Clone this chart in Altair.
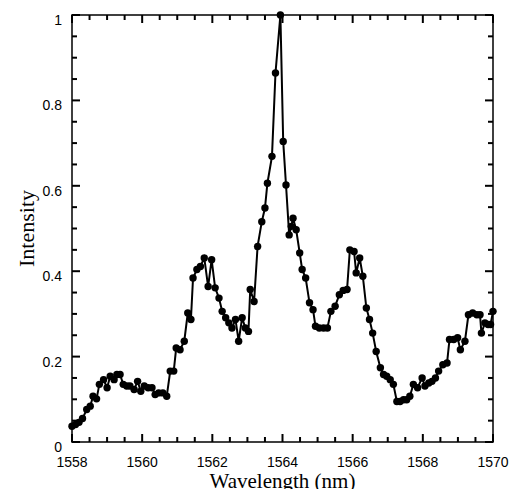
import altair as alt
import pandas as pd

wavelength = [
    1558.00, 1558.10, 1558.20, 1558.30, 1558.42, 1558.52, 1558.60, 1558.70, 1558.78, 1558.90,
    1559.00, 1559.09, 1559.20, 1559.28, 1559.37, 1559.46, 1559.56, 1559.65, 1559.77, 1559.87,
    1559.96, 1560.06, 1560.17, 1560.28, 1560.37, 1560.47, 1560.59, 1560.70, 1560.80, 1560.90,
    1560.97, 1561.08, 1561.20, 1561.30, 1561.39, 1561.45, 1561.56, 1561.66, 1561.77, 1561.88,
    1561.98, 1562.08, 1562.19, 1562.28, 1562.38, 1562.47, 1562.56, 1562.66, 1562.75, 1562.85,
    1562.94, 1563.03, 1563.08, 1563.19, 1563.29, 1563.41, 1563.50, 1563.57, 1563.70, 1563.80,
    1563.94, 1564.02, 1564.10, 1564.19, 1564.25, 1564.30, 1564.39, 1564.49, 1564.56, 1564.66,
    1564.77, 1564.87, 1564.94, 1565.05, 1565.17, 1565.28, 1565.38, 1565.50, 1565.62, 1565.73,
    1565.84, 1565.92, 1566.04, 1566.10, 1566.20, 1566.29, 1566.39, 1566.48, 1566.57, 1566.67,
    1566.79, 1566.88, 1566.97, 1567.07, 1567.16, 1567.26, 1567.35, 1567.45, 1567.54, 1567.63,
    1567.73, 1567.85, 1567.98, 1568.06, 1568.17, 1568.26, 1568.36, 1568.45, 1568.57, 1568.69,
    1568.76, 1568.88, 1568.99, 1569.07, 1569.20, 1569.30, 1569.42, 1569.54, 1569.63, 1569.67,
    1569.77, 1569.86, 1569.93, 1570.00,
]
intensity = [
    0.037, 0.041, 0.046, 0.055, 0.076, 0.084, 0.107, 0.101, 0.135, 0.146,
    0.127, 0.154, 0.146, 0.158, 0.158, 0.135, 0.131, 0.131, 0.123, 0.142,
    0.119, 0.131, 0.127, 0.127, 0.111, 0.115, 0.115, 0.107, 0.166, 0.166,
    0.220, 0.216, 0.236, 0.302, 0.287, 0.384, 0.404, 0.411, 0.431, 0.364,
    0.427, 0.361, 0.337, 0.306, 0.291, 0.279, 0.267, 0.287, 0.236, 0.291,
    0.267, 0.259, 0.357, 0.329, 0.458, 0.516, 0.548, 0.606, 0.669, 0.864,
    1.000, 0.704, 0.602, 0.485, 0.505, 0.524, 0.497, 0.443, 0.404, 0.384,
    0.326, 0.310, 0.271, 0.267, 0.267, 0.267, 0.306, 0.318, 0.345, 0.355,
    0.357, 0.450, 0.446, 0.396, 0.431, 0.388, 0.314, 0.287, 0.255, 0.212,
    0.174, 0.158, 0.154, 0.146, 0.135, 0.095, 0.095, 0.099, 0.099, 0.107,
    0.135, 0.127, 0.150, 0.131, 0.138, 0.142, 0.150, 0.166, 0.181, 0.185,
    0.240, 0.240, 0.244, 0.216, 0.236, 0.298, 0.302, 0.298, 0.298, 0.255,
    0.279, 0.275, 0.275, 0.306,
]

x_major = [1558, 1560, 1562, 1564, 1566, 1568, 1570]
x_labels = ["1558", "1560", "1562", "1564", "1566", "1568", "1570"]
x_minor = [1558.5, 1559, 1559.5, 1560.5, 1561, 1561.5, 1562.5,
           1563, 1563.5, 1564.5, 1565, 1565.5, 1566.5, 1567, 1567.5,
           1568.5, 1569, 1569.5]
y_major = [0, 0.2, 0.4, 0.6, 0.8, 1]
y_labels = ["0", "0.2", "0.4", "0.6", "0.8", "1"]
y_minor = [0.05, 0.1, 0.15, 0.25, 0.3, 0.35, 0.45, 0.5,
           0.55, 0.65, 0.7, 0.75, 0.85, 0.9, 0.95]
x_title = "Wavelength (nm)"
y_title = "Intensity"

df = pd.DataFrame({"wl": wavelength, "I": intensity})
df_xmaj = pd.DataFrame({"t": x_major, "lab": x_labels})
df_xmin = pd.DataFrame({"t": x_minor})
df_ymaj = pd.DataFrame({"t": y_major, "lab": y_labels})
df_ymin = pd.DataFrame({"t": y_minor})

W, H = 421, 427
MAJ, MIN = 8, 5
xs = alt.Scale(domain=[1558, 1570], nice=False, zero=False)
ys = alt.Scale(domain=[0, 1], nice=False)

line = alt.Chart(df).mark_line(color="black", strokeWidth=2).encode(
    x=alt.X("wl:Q", scale=xs, axis=None),
    y=alt.Y("I:Q", scale=ys, axis=None),
)
pts = alt.Chart(df).mark_circle(color="black", size=55, opacity=1).encode(
    x=alt.X("wl:Q", scale=xs, axis=None),
    y=alt.Y("I:Q", scale=ys, axis=None),
)


def xticks(d, length):
    bottom = alt.Chart(d).mark_rule(color="black", strokeWidth=2).encode(
        x=alt.X("t:Q", scale=xs, axis=None), y=alt.value(H), y2=alt.value(H - length))
    top = alt.Chart(d).mark_rule(color="black", strokeWidth=2).encode(
        x=alt.X("t:Q", scale=xs, axis=None), y=alt.value(0), y2=alt.value(length))
    return [bottom, top]


def yticks(d, length):
    left = alt.Chart(d).mark_rule(color="black", strokeWidth=2).encode(
        y=alt.Y("t:Q", scale=ys, axis=None), x=alt.value(0), x2=alt.value(length))
    right = alt.Chart(d).mark_rule(color="black", strokeWidth=2).encode(
        y=alt.Y("t:Q", scale=ys, axis=None), x=alt.value(W), x2=alt.value(W - length))
    return [left, right]


tick_layers = xticks(df_xmaj, MAJ) + xticks(df_xmin, MIN) + yticks(df_ymaj, MAJ) + yticks(df_ymin, MIN)

x_lab = alt.Chart(df_xmaj).mark_text(
    font="Liberation Sans", fontSize=14, color="black", align="center", baseline="middle"
).encode(x=alt.X("t:Q", scale=xs, axis=None), y=alt.value(H + 21), text="lab:N")

y_lab = alt.Chart(df_ymaj).mark_text(
    font="Liberation Sans", fontSize=14, color="black", align="right", baseline="middle", dy=6
).encode(y=alt.Y("t:Q", scale=ys, axis=None), x=alt.value(-10), text="lab:N")

x_tit = alt.Chart(pd.DataFrame({"s": [x_title]})).mark_text(
    font="Liberation Serif", fontSize=21, color="black", align="center", baseline="alphabetic"
).encode(x=alt.value(W / 2), y=alt.value(H + 46), text="s:N")

y_tit = alt.Chart(pd.DataFrame({"s": [y_title]})).mark_text(
    font="Liberation Serif", fontSize=22, color="black", align="center", baseline="middle",
    angle=270
).encode(x=alt.value(-45), y=alt.value(H / 2), text="s:N")

chart = alt.layer(line, pts, x_lab, y_lab, x_tit, y_tit, *tick_layers).properties(
    width=W, height=H,
    autosize=alt.AutoSizeParams(type="none"),
    padding={"left": 64, "top": 7, "right": 16, "bottom": 47},
).configure_view(
    stroke="black", strokeWidth=1.5
)

chart.save("out.html", embed_options={"renderer": "svg", "actions": False})
